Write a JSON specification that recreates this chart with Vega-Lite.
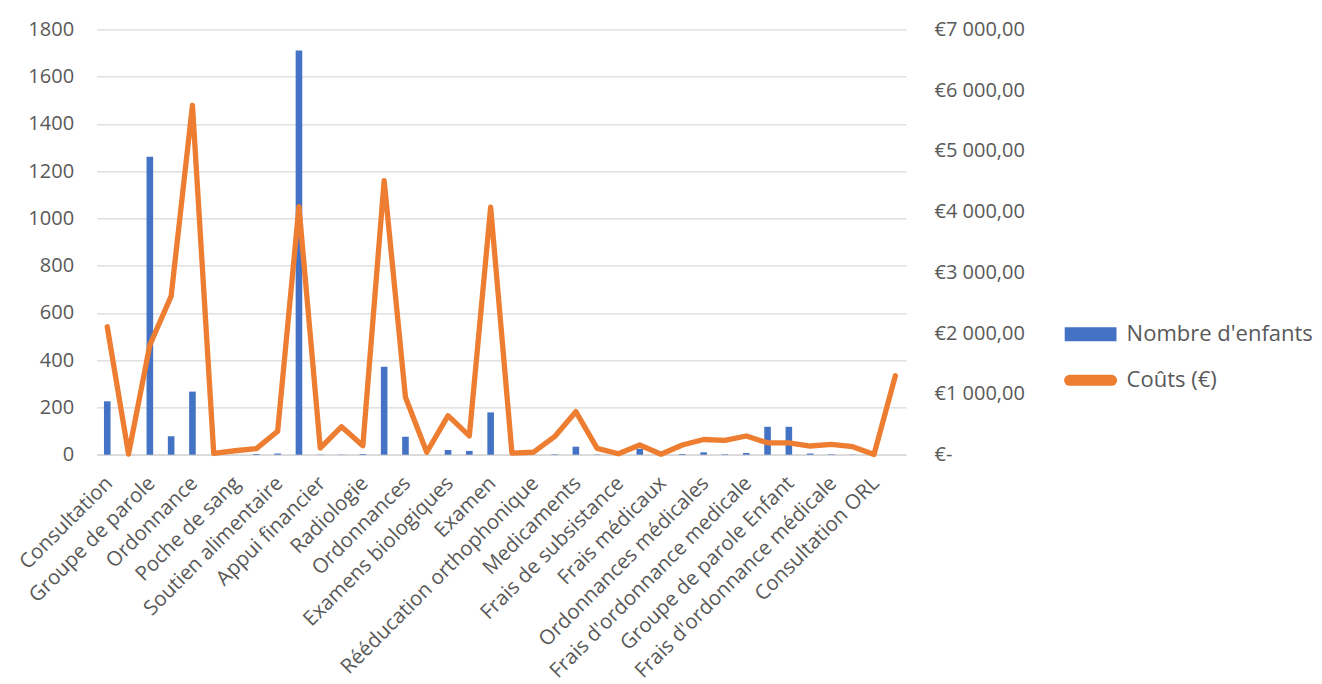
{
  "$schema": "https://vega.github.io/schema/vega-lite/v6.json",
  "autosize": {"type": "none"},
  "width": 809.4,
  "height": 425.4,
  "padding": {"left": 96.6, "top": 29.3, "right": 416, "bottom": 229.3},
  "background": "white",
  "config": {"view": {"stroke": null}, "font": "Open Sans"},
  "data": {
    "values": [
      {"idx": 0, "categorie": "Consultation", "enfants": 226, "couts": 2105},
      {"idx": 1, "enfants": 0, "couts": 10},
      {"idx": 2, "categorie": "Groupe de parole", "enfants": 1261, "couts": 1805},
      {"idx": 3, "enfants": 78, "couts": 2610},
      {"idx": 4, "categorie": "Ordonnance", "enfants": 267, "couts": 5750},
      {"idx": 5, "enfants": 0, "couts": 20},
      {"idx": 6, "categorie": "Poche de sang", "enfants": 0, "couts": 65},
      {"idx": 7, "enfants": 3, "couts": 100},
      {"idx": 8, "categorie": "Soutien alimentaire", "enfants": 5, "couts": 385},
      {"idx": 9, "enfants": 1710, "couts": 4080},
      {"idx": 10, "categorie": "Appui financier", "enfants": 1, "couts": 110},
      {"idx": 11, "enfants": 1, "couts": 460},
      {"idx": 12, "categorie": "Radiologie", "enfants": 3, "couts": 148},
      {"idx": 13, "enfants": 372, "couts": 4510},
      {"idx": 14, "categorie": "Ordonnances", "enfants": 76, "couts": 945},
      {"idx": 15, "enfants": 0, "couts": 40},
      {"idx": 16, "categorie": "Examens biologiques", "enfants": 20, "couts": 642},
      {"idx": 17, "enfants": 16, "couts": 310},
      {"idx": 18, "categorie": "Examen", "enfants": 179, "couts": 4072},
      {"idx": 19, "enfants": 0, "couts": 25},
      {"idx": 20, "categorie": "Rééducation orthophonique", "enfants": 0, "couts": 40},
      {"idx": 21, "enfants": 2, "couts": 296},
      {"idx": 22, "categorie": "Medicaments", "enfants": 34, "couts": 708},
      {"idx": 23, "enfants": 1, "couts": 105},
      {"idx": 24, "categorie": "Frais de subsistance", "enfants": 0, "couts": 16},
      {"idx": 25, "enfants": 25, "couts": 160},
      {"idx": 26, "categorie": "Frais médicaux", "enfants": 0, "couts": 8},
      {"idx": 27, "enfants": 3, "couts": 160},
      {"idx": 28, "categorie": "Ordonnances médicales", "enfants": 10, "couts": 250},
      {"idx": 29, "enfants": 2, "couts": 237},
      {"idx": 30, "categorie": "Frais d'ordonnance medicale", "enfants": 7, "couts": 308},
      {"idx": 31, "enfants": 118, "couts": 195},
      {"idx": 32, "categorie": "Groupe de parole Enfant", "enfants": 118, "couts": 195},
      {"idx": 33, "enfants": 5, "couts": 143},
      {"idx": 34, "categorie": "Frais d'ordonnance médicale", "enfants": 2, "couts": 171},
      {"idx": 35, "enfants": 1, "couts": 132},
      {"idx": 36, "categorie": "Consultation ORL", "enfants": 0, "couts": 5},
      {"idx": 37, "enfants": 0, "couts": 1300}
    ]
  },
  "encoding": {
    "x": {
      "field": "idx",
      "type": "ordinal",
      "scale": {"paddingInner": 0, "paddingOuter": 0},
      "axis": {
        "title": null,
        "ticks": false,
        "domainColor": "#D9D9D9",
        "domainWidth": 1.5,
        "labelAngle": -45,
        "labelAlign": "right",
        "labelBaseline": "top",
        "labelPadding": 18,
        "labelOffset": -5,
        "labelFontSize": 20.5,
        "labelColor": "#595959",
        "labelOverlap": false,
        "labelLimit": 1000,
        "labelExpr": "[\"Consultation\",\"\",\"Groupe de parole\",\"\",\"Ordonnance\",\"\",\"Poche de sang\",\"\",\"Soutien alimentaire\",\"\",\"Appui financier\",\"\",\"Radiologie\",\"\",\"Ordonnances\",\"\",\"Examens biologiques\",\"\",\"Examen\",\"\",\"Rééducation orthophonique\",\"\",\"Medicaments\",\"\",\"Frais de subsistance\",\"\",\"Frais médicaux\",\"\",\"Ordonnances médicales\",\"\",\"Frais d'ordonnance medicale\",\"\",\"Groupe de parole Enfant\",\"\",\"Frais d'ordonnance médicale\",\"\",\"Consultation ORL\",\"\"][datum.value]"
      }
    }
  },
  "layer": [
    {
      "mark": {"type": "bar", "width": {"band": 0.31}},
      "encoding": {
        "y": {
          "field": "enfants",
          "type": "quantitative",
          "scale": {"domain": [0, 1800], "nice": false},
          "axis": {
            "title": null,
            "values": [0, 200, 400, 600, 800, 1000, 1200, 1400, 1600, 1800],
            "format": "d",
            "ticks": false,
            "domain": false,
            "labelPadding": 23,
            "labelFontSize": 20,
            "labelColor": "#595959",
            "gridColor": "#D9D9D9",
            "gridWidth": 1.3
          }
        },
        "color": {
          "datum": "Nombre d'enfants",
          "type": "nominal",
          "scale": {"domain": ["Nombre d'enfants", "Coûts (€)"], "range": ["#4472C4", "#ED7D31"]},
          "legend": {
            "title": null,
            "orient": "none",
            "legendX": 983,
            "legendY": 294,
            "labelFontSize": 22,
            "labelColor": "#595959",
            "labelLimit": 400,
            "rowPadding": 13,
            "labelOffset": 25,
            "symbolSize": 196,
            "encode": {
              "symbols": {
                "update": {
                  "shape": {"signal": "datum.value === 'Coûts (€)' ? 'M-3,0H3' : 'M-3.7,-1H3.7V1H-3.7Z'"},
                  "fill": {"signal": "datum.value === 'Coûts (€)' ? 'transparent' : '#4472C4'"},
                  "stroke": {"signal": "datum.value === 'Coûts (€)' ? '#ED7D31' : 'transparent'"},
                  "strokeWidth": {"signal": "datum.value === 'Coûts (€)' ? 11 : 0"},
                  "strokeCap": {"value": "round"},
                  "size": {"value": 196},
                  "opacity": {"value": 1}
                }
              }
            }
          }
        }
      }
    },
    {
      "mark": {"type": "line", "strokeWidth": 5.3, "strokeJoin": "round", "strokeCap": "round"},
      "encoding": {
        "y": {
          "field": "couts",
          "type": "quantitative",
          "scale": {"domain": [0, 7000], "nice": false},
          "axis": {
            "title": null,
            "orient": "right",
            "values": [0, 1000, 2000, 3000, 4000, 5000, 6000, 7000],
            "ticks": false,
            "domain": false,
            "grid": false,
            "labelAlign": "left",
            "labelPadding": 28,
            "labelFontSize": 20,
            "labelColor": "#595959",
            "labelExpr": "datum.value === 0 ? '€-' : '€' + replace(replace(format(datum.value, ',.2f'), ',', ' '), '.', ',')"
          }
        },
        "color": {"datum": "Coûts (€)", "type": "nominal"}
      }
    }
  ],
  "resolve": {"scale": {"y": "independent"}}
}
